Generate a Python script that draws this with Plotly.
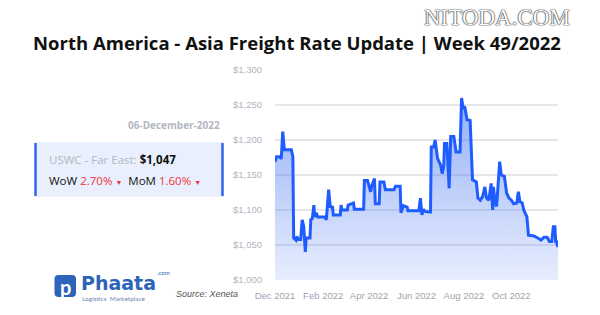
import plotly.graph_objects as go

# ---- data ----
dates = [
    "2021-12-01", "2021-12-03", "2021-12-07", "2021-12-09", "2021-12-11", "2021-12-13",
    "2021-12-22", "2021-12-24", "2021-12-25", "2021-12-28", "2021-12-29", "2021-12-31",
    "2022-01-03", "2022-01-05", "2022-01-07", "2022-01-09", "2022-01-10", "2022-01-15",
    "2022-01-16", "2022-01-18", "2022-01-20", "2022-01-21", "2022-01-23", "2022-01-25",
    "2022-02-03", "2022-02-05", "2022-02-08", "2022-02-10", "2022-02-13", "2022-02-14",
    "2022-02-23", "2022-02-24", "2022-02-25", "2022-03-04", "2022-03-05", "2022-03-10",
    "2022-03-12", "2022-03-13", "2022-03-25", "2022-03-26", "2022-03-30", "2022-04-03",
    "2022-04-05", "2022-04-08", "2022-04-09", "2022-04-14", "2022-04-15", "2022-04-20",
    "2022-04-22", "2022-05-03", "2022-05-05", "2022-05-11", "2022-05-12", "2022-05-15",
    "2022-05-20", "2022-05-21", "2022-06-04", "2022-06-06", "2022-06-08", "2022-06-10",
    "2022-06-12", "2022-06-17", "2022-06-19", "2022-06-20", "2022-06-23", "2022-06-25",
    "2022-06-28", "2022-06-30", "2022-07-02", "2022-07-04", "2022-07-06", "2022-07-07",
    "2022-07-10", "2022-07-13", "2022-07-15", "2022-07-19", "2022-07-22", "2022-07-27",
    "2022-07-29", "2022-07-31", "2022-08-02", "2022-08-05", "2022-08-09", "2022-08-12",
    "2022-08-17", "2022-08-19", "2022-08-22", "2022-08-25", "2022-08-28", "2022-08-30",
    "2022-09-02", "2022-09-05", "2022-09-07", "2022-09-08", "2022-09-10", "2022-09-12",
    "2022-09-14", "2022-09-16", "2022-09-18", "2022-09-22", "2022-09-25", "2022-09-28",
    "2022-10-01", "2022-10-04", "2022-10-08", "2022-10-10", "2022-10-12", "2022-10-15",
    "2022-10-17", "2022-10-21", "2022-10-23", "2022-10-30", "2022-11-04", "2022-11-08",
    "2022-11-12", "2022-11-16", "2022-11-19", "2022-11-22", "2022-11-24", "2022-11-26",
    "2022-11-27", "2022-11-28", "2022-11-30",
]
rates = [
    1169, 1176, 1176, 1173, 1212, 1186,
    1186, 1176, 1060, 1057, 1062, 1058,
    1058, 1086, 1076, 1040, 1060, 1060,
    1086, 1088, 1107, 1090, 1096, 1090,
    1090, 1086, 1129, 1105, 1104, 1093,
    1093, 1107, 1100, 1100, 1107, 1110,
    1110, 1101, 1101, 1142, 1142, 1126,
    1136, 1145, 1109, 1109, 1140, 1140,
    1129, 1129, 1134, 1134, 1096, 1106,
    1104, 1099, 1099, 1117, 1093, 1101,
    1098, 1097, 1097, 1190, 1190, 1200,
    1174, 1169, 1164, 1152, 1162, 1195,
    1195, 1131, 1205, 1205, 1183, 1183,
    1260, 1245, 1248, 1229, 1228, 1143,
    1140, 1117, 1114, 1119, 1133, 1117,
    1114, 1138, 1100, 1133, 1110, 1105,
    1143, 1169, 1150, 1148, 1124, 1117,
    1114, 1109, 1110, 1126, 1112, 1110,
    1100, 1090, 1064, 1063, 1060, 1057,
    1061, 1061, 1055, 1055, 1076, 1076,
    1055, 1055, 1047,
]

title_text = "North America - Asia Freight Rate Update | Week 49/2022"
report_date = "06-December-2022"
route = "USWC - Far East:"
current_rate = "$1,047"
wow_pct = "2.70%"
mom_pct = "1.60%"
source_text = "Source: Xeneta"

W, H = 600, 315

def px(x):
    return x / W

def py(y):
    return 1 - y / H

fig = go.Figure()
fig.add_trace(go.Scatter(
    x=dates, y=rates, mode="lines",
    line=dict(color="#1f5cff", width=3),
    fill="tozeroy",
    fillgradient=dict(
        type="vertical", start=1000, stop=1260,
        colorscale=[[0, "rgba(60,110,240,0.12)"], [1, "rgba(60,110,240,0.55)"]],
    ),
    hoverinfo="skip", showlegend=False,
))

BLUE = "#2e63f0"
shapes = [
    dict(type="rect", xref="paper", yref="paper", x0=px(35), x1=px(223), y0=py(197), y1=py(142),
         fillcolor="#e9effc", line=dict(width=0), layer="below"),
    dict(type="line", xref="paper", yref="paper", x0=px(35.5), x1=px(35.5), y0=py(196), y1=py(143),
         line=dict(color=BLUE, width=2.5)),
    dict(type="line", xref="paper", yref="paper", x0=px(222.5), x1=px(222.5), y0=py(196), y1=py(143),
         line=dict(color=BLUE, width=2.5)),
]
# rounded logo square
lx0, lx1, ly0, ly1, r = 54.5, 76, 275, 297, 4
path = (f"M {px(lx0+r)},{py(ly0)} L {px(lx1-r)},{py(ly0)} Q {px(lx1)},{py(ly0)} {px(lx1)},{py(ly0+r)} "
        f"L {px(lx1)},{py(ly1-r)} Q {px(lx1)},{py(ly1)} {px(lx1-r)},{py(ly1)} "
        f"L {px(lx0+r)},{py(ly1)} Q {px(lx0)},{py(ly1)} {px(lx0)},{py(ly1-r)} "
        f"L {px(lx0)},{py(ly0+r)} Q {px(lx0)},{py(ly0)} {px(lx0+r)},{py(ly0)} Z")
shapes.append(dict(type="path", xref="paper", yref="paper", path=path,
                   fillcolor="#2d63b9", line=dict(width=0)))

RED = "#f2333a"
GRAY = "#b3b7bf"
ann = [
    dict(x=px(222), y=py(125), text=f"<b>{report_date}</b>", xanchor="right", yanchor="middle",
         font=dict(family="Open Sans", size=10, color=GRAY)),
    dict(x=px(47), y=py(159), xanchor="left", yanchor="middle",
         text=f"<span style='color:{GRAY}'>{route}</span> <b>{current_rate}</b>",
         font=dict(family="Open Sans", size=11.5, color="#111111")),
    dict(x=px(47), y=py(180), xanchor="left", yanchor="middle",
         text=(f"WoW <span style='color:{RED}'>{wow_pct}</span> <span style='color:{RED};font-size:7px'>▼</span>"
               f"  MoM <span style='color:{RED}'>{mom_pct}</span> <span style='color:{RED};font-size:7px'>▼</span>"),
         font=dict(family="Open Sans", size=11.5, color="#111111")),
    dict(x=px(65.3), y=py(286.5), text="<b>p</b>", xanchor="center", yanchor="middle",
         font=dict(family="Lato", size=20, color="white")),
    dict(x=px(79), y=py(282.5), text="<b>Phaata</b>", xanchor="left", yanchor="middle",
         font=dict(family="DejaVu Sans", size=19, color="#2d63b9")),
    dict(x=px(155), y=py(272), text=".com", xanchor="left", yanchor="middle",
         font=dict(family="Lato", size=6, color="#2d63b9")),
    dict(x=px(80), y=py(298.5), text="Logistics  Marketplace", xanchor="left", yanchor="middle",
         font=dict(family="Lato", size=6.5, color="#6f85b5")),
    dict(x=px(174), y=py(294), text=f"<i>{source_text}</i>", xanchor="left", yanchor="middle",
         font=dict(family="Liberation Sans Narrow, Liberation Sans", size=9, color="#555555")),
    dict(x=px(497), y=py(17), text="NITODA.COM", xanchor="center", yanchor="middle",
         font=dict(family="Liberation Serif", size=23, color="white", shadow="0 0 1.5px #000, 0 0 1px #000")),
]
for a in ann:
    a.setdefault("xref", "paper")
    a.setdefault("yref", "paper")
    a.setdefault("showarrow", False)

fig.update_layout(
    width=W, height=H,
    margin=dict(l=0, r=0, t=0, b=0),
    paper_bgcolor="white", plot_bgcolor="white",
    title=dict(text=f"<b>{title_text}</b>", x=0.495, xanchor="center", y=py(44), yanchor="middle",
               xref="paper", yref="paper",
               font=dict(family="Open Sans", size=18.5, color="#111111")),
    xaxis=dict(domain=[px(275), px(558)], type="date", tickformat="%b %Y", dtick="M2",
               tick0="2021-12-01", showgrid=False, zeroline=False, showline=False,
               tickfont=dict(family="Liberation Sans", size=9.5, color="#9ea3ad"),
               ticklabelstandoff=8, automargin=False),
    yaxis=dict(domain=[py(280), py(70)], range=[1000, 1300], dtick=50, tickprefix="$",
               tickformat=",", gridcolor="#e6e6ea", gridwidth=1.5, zeroline=False, showline=False,
               tickfont=dict(family="Liberation Sans", size=9.5, color="#b0b5bf"),
               ticklabelstandoff=12, automargin=False),
    shapes=shapes,
    annotations=ann,
)

fig.write_html("out.html")
